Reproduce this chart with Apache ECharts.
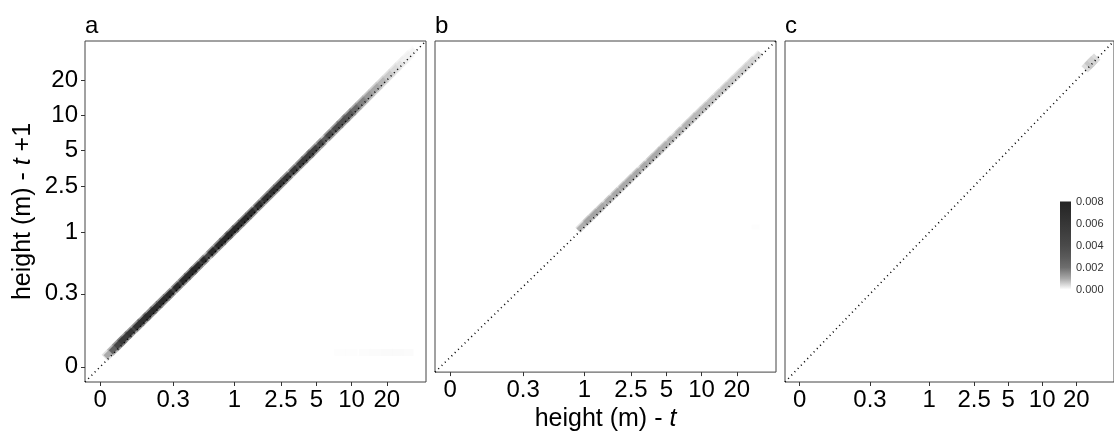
<!DOCTYPE html>
<html><head><meta charset="utf-8">
<script src="https://cdn.jsdelivr.net/npm/echarts@6/dist/echarts.min.js"></script>
<style>html,body{margin:0;padding:0;background:#fff}#c{width:1114px;height:437px}</style>
</head><body><div id="c"></div>
<script>
// ---- tick labels / legend ----
const tickValues = [0, 0.3, 1, 2.5, 5, 10, 20];
const tickLabels = ['0', '0.3', '1', '2.5', '5', '10', '20'];
const legendTicks = [0, 0.002, 0.004, 0.006, 0.008];
const legendMax = [0.008];
const panelNames = ['a', 'b', 'c'];
const densityColors = ['#ffffff', '#a8a8a8', '#6e6e6e', '#595959', '#4a4a4a', '#404040', '#363636', '#2d2d2d', '#242424'];

// ---- panel a: height at t, height at t+1, density ----
const aHeightT  = [0.09, 0.10, 0.11, 0.12, 0.14, 0.16, 0.18, 0.20, 0.23, 0.26, 0.30, 0.35, 0.40, 0.45, 0.50, 0.60, 0.70, 0.80, 0.90, 1.0, 1.15, 1.3, 1.5, 1.75, 2.0, 2.3, 2.6, 3.0, 3.5, 4.0, 4.5, 5.0, 6.0, 7.0, 8.0, 9.0, 10, 11.5, 13, 15, 17, 19.5, 22, 25, 28, 30.5];
const aHeightT1 = [0.098, 0.108, 0.119, 0.130, 0.151, 0.172, 0.193, 0.214, 0.246, 0.277, 0.319, 0.372, 0.425, 0.478, 0.531, 0.637, 0.742, 0.848, 0.953, 1.058, 1.216, 1.374, 1.585, 1.848, 2.112, 2.428, 2.744, 3.165, 3.692, 4.218, 4.745, 5.272, 6.326, 7.38, 8.434, 9.488, 10.54, 12.12, 13.7, 15.81, 17.92, 20.55, 23.19, 26.35, 29.51, 32.1];
const aDensity  = [0.0012, 0.0035, 0.0052, 0.0060, 0.0066, 0.0070, 0.0072, 0.0074, 0.0076, 0.0078, 0.0080, 0.0080, 0.0080, 0.0080, 0.0080, 0.0080, 0.0080, 0.0080, 0.0080, 0.0080, 0.0079, 0.0078, 0.0076, 0.0075, 0.0073, 0.0071, 0.0069, 0.0066, 0.0063, 0.0060, 0.0057, 0.0054, 0.0050, 0.0046, 0.0042, 0.0038, 0.0032, 0.0022, 0.0016, 0.0012, 0.0010, 0.0008, 0.0006, 0.0004, 0.0003, 0.00015];
// faint patch near the bottom of panel a
const aLowT  = [8, 10, 13, 16, 20, 25, 30];
const aLowT1 = [0.095, 0.095, 0.095, 0.095, 0.095, 0.095, 0.095];
const aLowD  = [0.00003, 0.00004, 0.00005, 0.00006, 0.00007, 0.00007, 0.00006];

// ---- panel b ----
const bHeightT  = [1.0, 1.15, 1.3, 1.5, 1.75, 2.0, 2.3, 2.6, 3.0, 3.5, 4.0, 4.5, 5.0, 6.0, 7.0, 8.0, 9.0, 10, 11.5, 13, 15, 17, 19.5, 22, 25, 28];
const bHeightT1 = [1.07, 1.23, 1.39, 1.60, 1.87, 2.14, 2.46, 2.78, 3.21, 3.74, 4.27, 4.80, 5.34, 6.40, 7.47, 8.54, 9.60, 10.67, 12.27, 13.87, 16.0, 18.13, 20.79, 23.46, 26.65, 29.84];
const bDensity  = [0.0011, 0.0011, 0.0011, 0.0010, 0.0010, 0.0010, 0.0010, 0.0010, 0.0010, 0.0010, 0.0010, 0.0010, 0.0009, 0.0009, 0.0009, 0.0009, 0.0008, 0.0008, 0.0008, 0.0007, 0.0007, 0.0007, 0.0006, 0.0006, 0.0006, 0.0005];
const bLowT  = [29];
const bLowT1 = [1.0];
const bLowD  = [0.00003];

// ---- panel c ----
const cHeightT  = [25.5, 27, 28.5];
const cHeightT1 = [26.5, 28.1, 29.6];
const cDensity  = [0.0005, 0.0007, 0.0005];

// ---- scale: log10 with 0 placed below the smallest tick ----
const ZERO_POS = -1.145, AXIS_MIN = -1.275, AXIS_MAX = 1.635;
function toU(h) { return h <= 0 ? ZERO_POS : Math.log10(h); }
const ticksU = tickValues.map(toU);
function labelFor(u) {
  let best = 0, bd = 1e9;
  ticksU.forEach((t, i) => { const d = Math.abs(t - u); if (d < bd) { bd = d; best = i; } });
  return tickLabels[best];
}
function cells(xs, ys, ds) { return xs.map((x, i) => [toU(x), toU(ys[i]), ds[i]]); }

const FONT = 'Liberation Sans, Arial, sans-serif';
const lefts = [85, 435, 785];
const TOP = 41, SIZE = 341;

const grids = lefts.map(l => ({ left: l, top: TOP, width: SIZE, height: SIZE, show: true, borderColor: '#444', borderWidth: 1, backgroundColor: '#fff' }));
grids.push({ left: 1060, top: 201.5, width: 11, height: 88, show: false });

const nameStyle = { fontSize: 25, color: '#000', fontFamily: FONT, rich: { i: { fontStyle: 'italic', fontSize: 25, color: '#000', fontFamily: FONT } } };
const xAxes = lefts.map((l, p) => ({
  type: 'value', gridIndex: p, min: AXIS_MIN, max: AXIS_MAX,
  axisLine: { show: false, onZero: false }, splitLine: { show: false },
  axisTick: { show: true, customValues: ticksU, length: 4, lineStyle: { color: '#333', width: 1 } },
  axisLabel: { show: true, customValues: ticksU, formatter: labelFor, fontSize: 24, color: '#000', margin: 6, fontFamily: FONT },
  name: p === 1 ? 'height (m) - {i|t}' : '', nameLocation: 'middle', nameGap: 29, nameTextStyle: nameStyle
}));
xAxes.push({ type: 'category', gridIndex: 3, show: false, data: [''] });

const yAxes = lefts.map((l, p) => ({
  type: 'value', gridIndex: p, min: AXIS_MIN, max: AXIS_MAX,
  axisLine: { show: false, onZero: false }, splitLine: { show: false },
  axisTick: { show: p === 0, customValues: ticksU, length: 4, lineStyle: { color: '#333', width: 1 } },
  axisLabel: { show: p === 0, customValues: ticksU, formatter: labelFor, fontSize: 24, color: '#000', margin: 7, fontFamily: FONT },
  name: p === 0 ? 'height (m) - {i|t} +1' : '', nameLocation: 'middle', nameGap: 49, nameTextStyle: nameStyle
}));
yAxes.push({
  type: 'value', gridIndex: 3, min: 0, max: 0.008, position: 'right',
  axisLine: { show: false, onZero: false }, axisTick: { show: false }, splitLine: { show: false },
  axisLabel: { customValues: legendTicks, fontSize: 11, color: '#333', margin: 5, fontFamily: FONT, formatter: v => v.toFixed(3) }
});

const band = (p, size, data, extra) => Object.assign({ type: 'scatter', xAxisIndex: p, yAxisIndex: p, symbol: 'rect', symbolSize: size, symbolRotate: 45, z: 2, silent: true, data: data }, extra || {});
const aCells = cells(aHeightT, aHeightT1, aDensity);
const bCells = cells(bHeightT, bHeightT1, bDensity);
const series = [
  band(0, [20, 9], aCells, { z: 1, itemStyle: { opacity: 0.3 } }),
  band(0, [18, 5.5], aCells),
  { type: 'scatter', xAxisIndex: 0, yAxisIndex: 0, symbol: 'rect', symbolSize: [12, 7], z: 1, silent: true, data: cells(aLowT, aLowT1, aLowD) },
  band(1, [18, 7.5], bCells, { z: 1, itemStyle: { opacity: 0.35 } }),
  band(1, [18, 4.5], bCells),
  { type: 'scatter', xAxisIndex: 1, yAxisIndex: 1, symbol: 'rect', symbolSize: [8, 5], z: 1, silent: true, data: cells(bLowT, bLowT1, bLowD) },
  band(2, [10, 9], cells(cHeightT, cHeightT1, cDensity))
];
const heatIdx = series.map((s, i) => i);
const diagEnds = [AXIS_MIN, AXIS_MAX];
lefts.forEach((l, p) => {
  series.push({ type: 'line', xAxisIndex: p, yAxisIndex: p, z: 3, silent: true, symbol: 'none',
    data: [[diagEnds[0], diagEnds[0]], [diagEnds[1], diagEnds[1]]],
    lineStyle: { color: '#000', width: 1.6, type: [1, 3.6] } });
});
// colour bar: one bar spanning the legend scale, filled with the density ramp
series.push({ type: 'bar', xAxisIndex: 3, yAxisIndex: 3, data: legendMax, barWidth: '100%', silent: true,
  itemStyle: { color: { type: 'linear', x: 0, y: 1, x2: 0, y2: 0,
    colorStops: densityColors.map((c, i) => ({ offset: i / (densityColors.length - 1), color: c })) } } });

const chart = echarts.init(document.getElementById('c'), null, { renderer: 'canvas' });
chart.setOption({
  animation: false,
  backgroundColor: '#fff',
  textStyle: { fontFamily: FONT },
  title: panelNames.map((n, p) => ({ text: n, left: lefts[p], top: 14, padding: 0, textStyle: { fontSize: 24, fontWeight: 'normal', color: '#000', fontFamily: FONT } })),
  grid: grids, xAxis: xAxes, yAxis: yAxes,
  visualMap: { type: 'continuous', min: 0, max: 0.008, dimension: 2, seriesIndex: heatIdx, calculable: false,
    inRange: { color: densityColors }, show: false },
  series: series
});
</script></body></html>
